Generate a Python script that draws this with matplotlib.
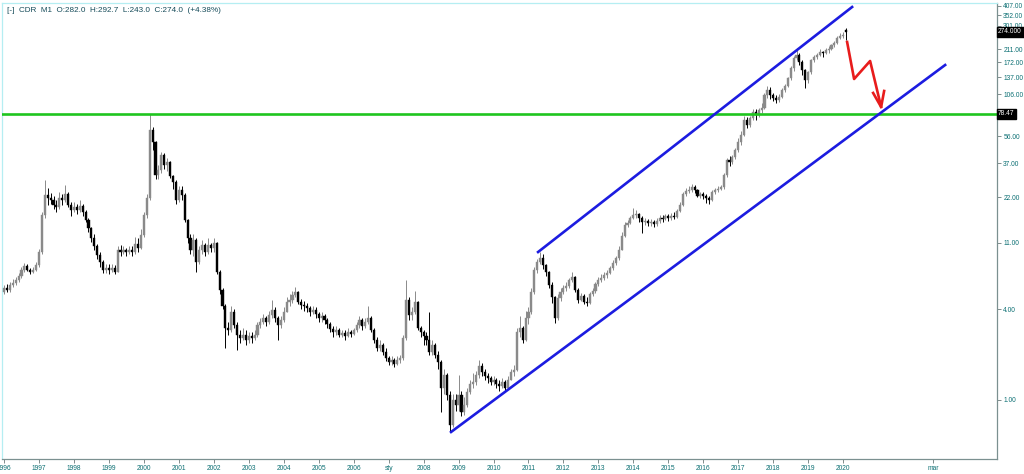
import matplotlib
matplotlib.use("Agg")
import matplotlib.pyplot as plt
import matplotlib.transforms as mtransforms

plt.rcParams['font.family'] = ['Liberation Sans', 'DejaVu Sans']

# miesięczne świece CDR od stycznia 1996 (odczyt z wykresu)
closes = [
    5.5, 5.35, 5.8, 5.95, 6.2, 6.6, 7.25, 7.7, 7.25, 7.05, 7.25, 7.8,
    9.55, 16.8, 22.8, 21.8, 21.1, 19.6, 19.0, 21.8, 21.1, 23.1, 19.6, 18.2,
    19.0, 18.2, 19.3, 17.6, 15.6, 13.8, 11.8, 10.5, 9.1, 8.2, 7.25, 7.5,
    7.25, 7.5, 7.05, 9.85, 9.55, 9.85, 9.55, 9.85, 9.55, 10.8, 10.2, 12.4,
    16.8, 21.8, 61.5, 51.1, 31.0, 33.4, 42.0, 36.0, 37.7, 30.4, 27.8, 21.1,
    24.6, 22.8, 15.6, 11.8, 9.85, 11.5, 8.2, 9.85, 10.6, 9.55, 10.6, 10.2,
    10.95, 7.04, 5.35, 4.19, 3.0, 2.91, 3.83, 3.14, 2.70, 2.57, 2.70, 2.50,
    2.65, 2.57, 2.70, 3.14, 3.29, 3.49, 3.29, 3.66, 3.94, 3.49, 3.14, 3.39,
    3.83, 4.46, 4.59, 4.95, 5.19, 4.46, 4.25, 4.19, 4.07, 3.83, 3.94, 3.71,
    3.49, 3.60, 3.39, 3.19, 2.95, 2.82, 2.91, 2.70, 2.78, 2.65, 2.82, 2.74,
    2.91, 3.14, 3.39, 3.09, 3.29, 3.49, 2.91, 2.50, 2.21, 2.32, 2.08, 1.90,
    1.79, 1.84, 1.73, 1.84, 1.90, 2.57, 4.59, 3.66, 3.83, 4.46, 3.0, 2.82,
    2.65, 2.50, 2.08, 2.32, 1.99, 1.79, 1.20, 1.46, 1.08, 0.68, 1.00, 0.93,
    1.08, 0.83, 0.93, 1.13, 1.28, 1.32, 1.46, 1.68, 1.53, 1.44, 1.40, 1.32,
    1.36, 1.28, 1.24, 1.32, 1.20, 1.36, 1.53, 1.58, 2.82, 3.0, 2.5, 3.49,
    3.83, 5.19, 7.25, 8.2, 8.72, 7.8, 7.04, 5.77, 4.81, 3.49, 4.74, 5.19,
    5.52, 5.68, 6.2, 6.52, 5.35, 4.59, 4.88, 4.46, 4.39, 5.03, 5.27, 5.87,
    6.2, 6.43, 6.7, 6.93, 7.49, 8.08, 8.72, 9.85, 12.2, 14.4, 14.9, 16.0,
    16.8, 17.1, 16.0, 15.1, 15.3, 14.9, 15.1, 14.6, 15.3, 16.0, 15.8, 16.5,
    16.0, 16.5, 16.3, 17.8, 19.6, 23.1, 24.2, 24.6, 25.7, 24.6, 22.4, 23.1,
    22.4, 21.8, 21.1, 23.8, 24.6, 25.1, 25.7, 31.0, 38.9, 37.7, 40.7, 45.3,
    51.1, 57.0, 71.5, 66.0, 73.7, 80.8, 77.0, 83.0, 85.9, 104, 113, 104,
    100, 97, 101.5, 113, 120, 135.7, 158, 184, 193, 173, 153, 131,
    148.6, 178, 186.8, 193, 201, 198, 208, 211, 224, 231, 250, 257,
    262.5, 274.0,
]
highs = [
    5.8, 5.9, 6.0, 6.3, 6.5, 6.9, 7.6, 8.1, 7.9, 7.5, 7.6, 8.2,
    10.0, 17.5, 28.7, 25.5, 23.5, 22.5, 21.0, 24.0, 23.0, 26.5, 24.0, 20.5,
    20.5, 20.0, 21.0, 19.8, 18.0, 16.0, 14.0, 12.5, 10.8, 9.6, 8.5, 8.0,
    7.9, 8.0, 7.8, 10.5, 10.6, 10.4, 10.2, 10.5, 10.4, 12.0, 11.8, 13.5,
    17.5, 23.0, 78.47, 64.0, 52.0, 36.0, 44.0, 43.0, 40.0, 38.0, 31.0, 28.5,
    26.0, 26.0, 23.5, 15.8, 12.5, 12.5, 11.8, 10.5, 11.5, 11.0, 11.8, 11.0,
    11.8, 11.2, 7.3, 5.5, 4.3, 3.3, 4.2, 4.0, 3.3, 2.9, 3.0, 2.9,
    2.8, 2.8, 2.9, 3.3, 3.5, 3.7, 3.6, 3.9, 4.6, 4.1, 3.6, 3.6,
    4.1, 4.8, 5.0, 5.3, 5.6, 5.3, 4.7, 4.5, 4.4, 4.2, 4.2, 4.1,
    3.8, 3.8, 3.7, 3.5, 3.3, 3.1, 3.1, 3.0, 2.9, 2.9, 3.0, 2.9,
    3.0, 3.3, 3.6, 3.5, 3.5, 4.2, 3.6, 3.0, 2.6, 2.5, 2.4, 2.2,
    1.95, 1.95, 1.9, 1.95, 2.0, 2.7, 6.2, 4.8, 4.1, 5.3, 4.5, 3.1,
    2.9, 2.8, 3.83, 2.5, 2.4, 2.1, 1.85, 1.6, 1.5, 1.15, 1.1, 1.1,
    1.46, 1.15, 1.05, 1.2, 1.35, 1.5, 1.55, 1.84, 1.75, 1.6, 1.5, 1.45,
    1.45, 1.4, 1.35, 1.4, 1.35, 1.45, 1.6, 1.7, 3.0, 3.6, 3.1, 3.9,
    4.1, 5.5, 7.6, 8.6, 9.55, 9.2, 8.0, 7.2, 6.0, 4.9, 5.0, 5.5,
    5.8, 6.0, 6.4, 7.0, 6.6, 5.5, 5.1, 5.0, 4.8, 5.2, 5.5, 6.0,
    6.5, 6.8, 7.0, 7.3, 7.7, 8.4, 9.0, 10.5, 13.0, 15.0, 15.6, 16.5,
    18.6, 18.0, 17.3, 16.5, 16.0, 15.8, 15.8, 15.6, 16.0, 16.8, 16.8, 17.0,
    17.0, 17.2, 17.5, 18.5, 20.5, 24.0, 25.5, 26.0, 27.0, 26.5, 25.0, 24.0,
    24.0, 23.0, 22.5, 24.5, 25.5, 26.0, 26.5, 32.0, 40.0, 41.0, 42.0, 47.0,
    54, 60, 76, 75, 76, 84, 84, 86, 92, 108, 120, 118,
    108, 104, 106, 116, 124, 137, 162, 190, 214, 200, 178, 156,
    152, 182, 192, 200, 210, 205, 214, 222, 228, 240, 256, 268,
    275, 292.7,
]
lows = [
    5.0, 5.2, 5.2, 5.6, 5.8, 6.0, 6.4, 7.0, 7.1, 6.8, 6.9, 7.1,
    7.6, 9.3, 16.0, 19.5, 19.8, 18.5, 17.5, 18.5, 19.5, 20.5, 19.0, 16.5,
    17.5, 17.0, 17.5, 16.5, 15.0, 13.0, 11.2, 9.8, 8.6, 7.6, 6.9, 6.9,
    6.8, 7.0, 6.8, 7.0, 9.0, 9.2, 9.0, 9.2, 9.0, 9.2, 9.6, 10.0,
    12.0, 16.0, 21.0, 45.0, 29.0, 29.0, 32.0, 34.0, 33.0, 29.5, 25.0, 20.0,
    20.5, 21.0, 15.0, 11.0, 9.2, 9.0, 7.0, 8.0, 9.3, 9.0, 9.3, 9.5,
    9.6, 6.8, 5.0, 4.0, 2.2, 2.7, 2.8, 3.0, 2.15, 2.4, 2.5, 2.3,
    2.4, 2.4, 2.5, 2.6, 3.0, 3.2, 3.1, 3.2, 3.5, 3.3, 2.5, 3.0,
    3.3, 3.8, 4.2, 4.4, 4.8, 4.3, 4.0, 3.9, 3.8, 3.6, 3.7, 3.5,
    3.3, 3.3, 3.2, 3.0, 2.8, 2.6, 2.7, 2.6, 2.6, 2.5, 2.6, 2.6,
    2.7, 2.8, 3.0, 2.9, 3.0, 3.2, 2.8, 2.4, 2.1, 2.1, 2.0, 1.8,
    1.7, 1.7, 1.65, 1.7, 1.75, 1.85, 2.5, 3.4, 3.4, 3.7, 2.9, 2.6,
    2.3, 2.3, 2.0, 2.0, 1.9, 1.6, 0.83, 1.1, 1.0, 0.61, 0.66, 0.85,
    0.85, 0.78, 0.8, 0.9, 1.1, 1.2, 1.25, 1.4, 1.45, 1.35, 1.3, 1.25,
    1.25, 1.2, 1.15, 1.2, 1.15, 1.18, 1.35, 1.45, 1.55, 2.6, 2.4, 2.45,
    3.2, 3.7, 5.0, 6.9, 8.0, 7.4, 6.6, 5.5, 4.4, 3.24, 3.4, 4.5,
    5.0, 5.3, 5.5, 6.0, 5.2, 4.4, 4.5, 4.3, 4.2, 4.3, 4.9, 5.1,
    5.7, 6.0, 6.2, 6.4, 6.8, 7.3, 7.8, 8.5, 9.8, 12.0, 14.0, 14.6,
    15.8, 16.0, 15.2, 12.8, 14.4, 14.3, 14.2, 14.0, 14.3, 14.8, 15.2, 15.5,
    15.3, 15.6, 15.7, 16.0, 17.5, 19.2, 22.5, 23.5, 24.0, 23.5, 22.0, 21.8,
    21.5, 20.3, 20.0, 20.8, 23.0, 23.8, 24.5, 25.0, 30.0, 35.5, 36.5, 39.5,
    44, 49, 56, 63, 64, 72, 72, 75, 80, 85, 100, 98,
    95, 92, 94, 100, 110, 118, 132, 152, 178, 165, 143, 116,
    125, 145, 172, 182, 190, 188, 196, 200, 208, 218, 228, 245,
    250, 243,
]
first_open = 5.2
last_open = 282.0
start_year = 1996

header = "[-]  CDR  M1  O:282.0  H:292.7  L:243.0  C:274.0  (+4.38%)"

year_ticks = list(range(1996, 2021))
year_labels = ['sty' if y == 2007 else str(y) for y in year_ticks]
extra_tick = 2022.57
extra_label = 'mar'

y_ticks = [1, 4, 11, 22, 37, 56, 106, 137, 172, 211, 301, 352, 407]

resistance = 78.47
upper_x = [2011.275, 2020.256]
upper_y = [9.55, 400.5]
lower_x = [2008.786, 2022.917]
lower_y = [0.614, 165.4]
arrow_x = [2020.113, 2020.313, 2020.771, 2021.086]
arrow_y = [235, 133.6, 175.8, 87.2]
head_x = [2020.857, 2021.086, 2021.172]
head_y = [108, 87.2, 111.3]

# --- rysowanie ---
opens = [first_open] + closes[:-1]
opens[-1] = last_open
xs = [start_year + i / 12.0 for i in range(len(closes))]

fig = plt.figure(figsize=(10.24, 4.74), dpi=100)
ax = fig.add_axes([2 / 1024, 15 / 474, 995 / 1024, 456 / 474])
ax.set_yscale('log')

up_col = '#8a8a8a'
dn_col = '#000000'
for x, o, h, l, c in zip(xs, opens, highs, lows, closes):
    col = up_col if c >= o else dn_col
    ax.vlines(x, l, h, color=col, lw=0.7, zorder=2)
    lo, hi = min(o, c), max(o, c)
    if hi / lo < 1.01:
        hi = lo * 1.01
    ax.bar(x, hi - lo, bottom=lo, width=0.06, color=col, edgecolor=col,
           linewidth=0.3, zorder=3)

ax.axhline(resistance, color='#1ec51e', lw=1.9, zorder=4)
ax.plot(upper_x, upper_y, color='#1c1ce0', lw=1.9, zorder=4)
ax.plot(lower_x, lower_y, color='#1c1ce0', lw=1.9, zorder=4)
ax.plot(arrow_x, arrow_y, color='#e81c1c', lw=1.9, zorder=5)
ax.plot(head_x, head_y, color='#e81c1c', lw=1.9, zorder=5)

ax.set_xlim(1995.943, 2024.40)
ax.set_ylim(0.4067, 425.7)

ax.set_xticks(year_ticks + [extra_tick])
ax.set_xticklabels(year_labels + [extra_label])
ax.yaxis.tick_right()
ax.set_yticks(y_ticks)
ax.set_yticklabels(['%.2f' % v for v in y_ticks])
ax.yaxis.set_minor_locator(matplotlib.ticker.NullLocator())

tick_col = '#0b6f73'
ax.tick_params(axis='x', direction='out', length=3, width=0.6, color='#6a7a7a',
               labelsize=4.8, labelcolor=tick_col, pad=1.5)
ax.tick_params(axis='y', direction='out', length=3, width=0.6, color='#6a7a7a',
               labelsize=4.8, labelcolor=tick_col, pad=1.5)

for side in ['left', 'top']:
    ax.spines[side].set_color('#b5eef2')
    ax.spines[side].set_linewidth(0.9)
for side in ['right', 'bottom']:
    ax.spines[side].set_color('#7b9090')
    ax.spines[side].set_linewidth(0.9)

blend = mtransforms.blended_transform_factory(ax.transAxes, ax.transData)
for val, txt in [(closes[-1], '274.000'), (resistance, '78.47')]:
    ax.text(1.0012, val, txt, transform=blend, ha='left', va='center',
            fontsize=4.8, color='white', zorder=10, clip_on=False,
            bbox=dict(boxstyle='square,pad=0.25', facecolor='black',
                      edgecolor='black'))

fig.text(7 / 1024, 1 - 11 / 474, header, fontsize=5.9, color='#164c5a',
         ha='left', va='center')

fig.savefig('out.png', dpi=100, facecolor='white')
